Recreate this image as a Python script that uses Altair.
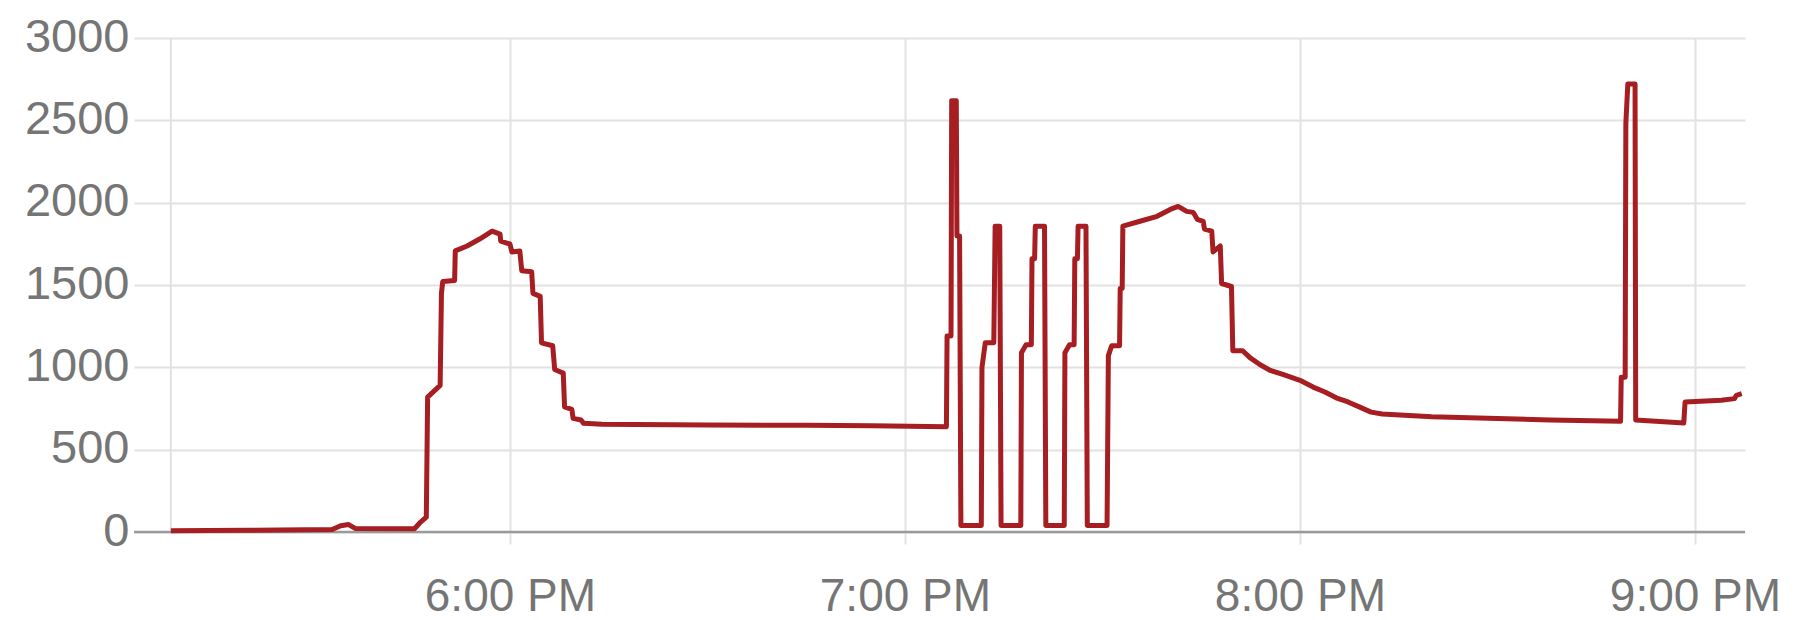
import altair as alt
import pandas as pd

# Time of each reading, in minutes after 5:00 PM, and the reading (W)
minutes_after_5pm = [
    8.5, 20, 33, 34.3, 35.5, 36.5, 45.5, 46.3, 47.3,
    47.5, 49.4, 49.6, 49.8, 51.6, 51.7, 53.5, 55.4, 57.3, 58.5, 58.6, 60, 60.3, 61.5, 61.8, 63.3, 63.5, 64.6,
    64.8, 66.5, 66.8, 68.1, 68.3, 69.4, 69.6, 70.8, 71.2, 74, 90, 105, 115, 126.3,
    126.4, 127.0, 127.1, 127.8, 127.9, 128.3, 128.5, 131.6,
    131.7, 132.2, 133.5, 133.7, 134.4, 134.6, 137.6,
    137.7, 138.4, 139.2, 139.3, 139.7, 139.8, 141.2, 141.4, 144.2,
    144.3, 145.0, 145.7, 145.8, 146.2, 146.3, 147.5, 147.7, 150.7,
    150.9, 151.4, 152.6, 152.7, 153.0, 153.1, 155.7, 158.3, 160.3, 161.5, 162.8, 163.8, 164.4, 165.3, 165.5,
    166.6, 166.8, 167.9, 168.1, 169.6, 169.8, 171.3, 172.4, 173.9, 175.5, 177.4, 180,
    182, 183.8, 185.5, 187.3, 189, 190.8, 192.5, 200, 210, 218, 228.7,
    228.8, 229.4, 229.5, 229.8, 230.9, 231.0, 238.3, 238.5, 244, 246, 246.3, 247.1,
]
watts = [
    8, 10, 15, 38, 45, 22, 20, 55, 90,
    819, 890, 1449, 1521, 1527, 1707, 1737, 1779, 1827, 1809, 1767, 1749, 1701, 1707, 1587, 1581, 1449, 1431,
    1149, 1131, 987, 965, 760, 745, 690, 680, 660, 655, 650, 648, 645, 639,
    1191, 1191, 2619, 2619, 1797, 1797, 40, 40,
    999, 1149, 1149, 1857, 1857, 40, 40,
    1089, 1137, 1137, 1659, 1659, 1857, 1857, 40, 40,
    1089, 1137, 1137, 1659, 1659, 1857, 1857, 40, 40,
    1071, 1131, 1131, 1479, 1479, 1857, 1887, 1917, 1959, 1977, 1947, 1941, 1899, 1887, 1839,
    1827, 1701, 1737, 1509, 1491, 1101, 1101, 1059, 1017, 981, 957, 921,
    880, 850, 815, 790, 760, 728, 717, 700, 690, 680, 672,
    940, 940, 2480, 2720, 2720, 680, 662, 790, 800, 810, 830, 840,
]
y_ticks = [0, 500, 1000, 1500, 2000, 2500, 3000]
x_tick_hours = [18, 19, 20, 21]

base = pd.Timestamp("2020-01-01 17:00:00")
times = [(base + pd.Timedelta(minutes=m)).round("s") for m in minutes_after_5pm]
df = pd.DataFrame({"time": times, "watts": watts})

LINE_COLOR = "#a61e22"
GRID = "#e2e2e2"
FONT = "Liberation Sans"
LABEL_COLOR = "#757575"

x_enc = alt.X(
    "time:T",
    title=None,
    scale=alt.Scale(domain=[
        alt.DateTime(year=2020, month=1, date=1, hours=17, minutes=2, seconds=54),
        alt.DateTime(year=2020, month=1, date=1, hours=21, minutes=7, seconds=36),
    ]),
    axis=alt.Axis(
        values=[alt.DateTime(year=2020, month=1, date=1, hours=h) for h in x_tick_hours],
        format="%-I:%M %p",
        grid=True, gridColor=GRID, gridWidth=2,
        domain=False,
        ticks=True, tickColor=GRID, tickWidth=2, tickSize=12,
        labelPadding=52, labelBaseline="middle",
        labelFont=FONT, labelFontSize=46, labelColor=LABEL_COLOR,
    ),
)
y_enc = alt.Y(
    "watts:Q",
    title=None,
    scale=alt.Scale(domain=[0, 3000], nice=False),
    axis=alt.Axis(
        values=y_ticks,
        format="d",
        grid=True, gridColor=GRID, gridWidth=2,
        domain=False, ticks=False, tickSize=0,
        labelPadding=5, labelBaseline="middle", labelOffset=-1,
        labelFont=FONT, labelFontSize=47, labelColor=LABEL_COLOR,
    ),
)

start_rule = alt.Chart(df.head(1)).mark_rule(color=GRID, strokeWidth=2).encode(x=x_enc)
baseline = alt.Chart(pd.DataFrame({"watts": [0]})).mark_rule(
    color="#9a9a9a", strokeWidth=2.5
).encode(y=y_enc)
line = alt.Chart(df).mark_line(
    color=LINE_COLOR, strokeWidth=5, strokeJoin="round"
).encode(x=x_enc, y=y_enc)

chart = alt.layer(start_rule, baseline, line).properties(
    width=1611,
    height=494,
    autosize=alt.AutoSizeParams(type="none"),
    padding={"left": 126, "top": 30, "right": 52, "bottom": 88},
    background="white",
).configure_view(stroke=None)

chart.save("out.html", embed_options={"renderer": "svg", "actions": False})
